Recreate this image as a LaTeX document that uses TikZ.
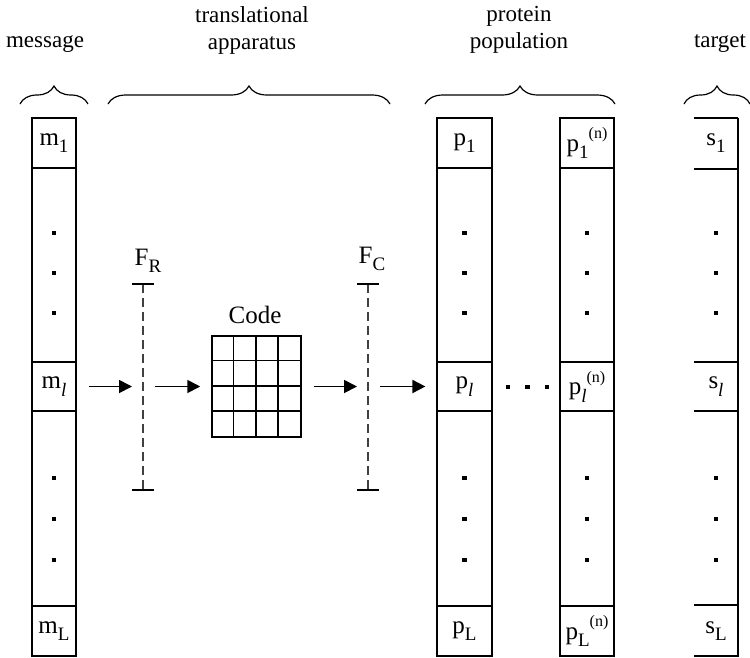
\documentclass[tikz,border=0pt]{standalone}
\usepackage{fontspec}
\setmainfont{Liberation Serif}
\usetikzlibrary{arrows.meta,decorations.pathreplacing}
% lowered / raised indices for the cell labels
\newcommand\dsub[1]{\raisebox{-0.3em}{\fontsize{19}{19}\selectfont #1}}
\newcommand\dsup[1]{\raisebox{0.5em}{\fontsize{16}{16}\selectfont #1}}
\begin{document}
\begin{tikzpicture}[x=1pt,y=-1pt,
  every node/.style={inner sep=0pt},
  head/.style={font=\fontsize{23}{27}\selectfont, align=center},
  lbl/.style={font=\fontsize{25}{25}\selectfont},
  cellbox/.style={draw, line width=1.2pt, minimum width=#1, font=\fontsize{25}{25}\selectfont},
  flow/.style={line width=1.8pt, -{Triangle[length=13pt,width=13pt]}, shorten <=12pt, shorten >=11pt},
  barline/.style={line width=1.5pt, draw=black!75, dash pattern=on 9pt off 5pt},
  barcap/.style={line width=1.4pt},
  brc/.style={line width=1.2pt, decorate, decoration={brace, amplitude=18pt}},
  gridline/.style={line width=1.5pt},
  dotmark/.style={fill=black},
]
\useasboundingbox (0,0) rectangle (750,657);

% ---- headings and braces ----
\node[head] (hmsg) at (45,44) {message};
\node[head] (htr) at (252,30) {translational\\apparatus};
\node[head] (hpp) at (519,30) {protein\\population};
\node[head] (htg) at (720,44) {target};
\draw[brc] (20,104) -- (88,104);
\draw[brc] (108,104) -- (390,104);
\draw[brc] (425,104) -- (615,104);
\draw[brc] (684,104) -- (750,104);

% ---- message column ----
\node[cellbox=44pt, minimum height=50pt] (m1) at (54,143) {m\dsub{1}};
\node[cellbox=44pt, minimum height=194pt] (mu) at (54,265) {};
\node[cellbox=44pt, minimum height=49pt] (ml) at (54,386.5) {m\dsub{\itshape l}};
\node[cellbox=44pt, minimum height=195pt] (md) at (54,508.5) {};
\node[cellbox=44pt, minimum height=50pt] (mL) at (54,631) {m\dsub{L}};

% ---- protein column ----
\node[cellbox=55pt, minimum height=50pt] (p1) at (464.5,143) {p\dsub{1}};
\node[cellbox=55pt, minimum height=194pt] (pu) at (464.5,265) {};
\node[cellbox=55pt, minimum height=49pt] (pl) at (464.5,386.5) {p\dsub{\itshape l}};
\node[cellbox=55pt, minimum height=195pt] (pd) at (464.5,508.5) {};
\node[cellbox=55pt, minimum height=50pt] (pL) at (464.5,631) {p\dsub{L}};

% ---- n-th protein column ----
\node[cellbox=54pt, minimum height=50pt] (q1) at (587,143) {p\dsub{1}\dsup{(n)}};
\node[cellbox=54pt, minimum height=194pt] (qu) at (587,265) {};
\node[cellbox=54pt, minimum height=49pt] (ql) at (587,386.5) {p\dsub{\itshape l}\dsup{(n)}};
\node[cellbox=54pt, minimum height=195pt] (qd) at (587,508.5) {};
\node[cellbox=54pt, minimum height=50pt] (qL) at (587,631) {p\dsub{L}\dsup{(n)}};

% ---- target column (open on the left) ----
\node[lbl] (s1) at (716,143) {s\dsub{1}};
\node[lbl] (sl) at (716,386.5) {s\dsub{\itshape l}};
\node[lbl] (sL) at (716,631) {s\dsub{L}};
\foreach \yy in {118,169,362,411,605,656}
  \draw[line width=1.2pt] (694,\yy) -- (738,\yy);
\draw[line width=1.2pt] (738,118) -- (738,657);

% ---- dots in the tall cells ----
\foreach \xx in {54,464.5,587,716}
  \foreach \yy in {233,273,313,478,519,560}
    \fill[dotmark] (\xx-2.2,\yy-2.2) rectangle ++(4.4,4.4);
\foreach \xx in {508,527.5,547}
  \fill[dotmark] (\xx-2.2,384.8) rectangle ++(4.4,4.4);

% ---- filters ----
\coordinate (frtop) at (143,284);
\coordinate (frbot) at (143,490);
\coordinate (fctop) at (368,284);
\coordinate (fcbot) at (368,490);
\coordinate (fr) at (143,386.5);
\coordinate (fc) at (368,386.5);
\draw[barline] (frtop) -- (frbot);
\draw[barline] (fctop) -- (fcbot);
\foreach \c in {frtop,frbot,fctop,fcbot}
  \draw[barcap] (\c) ++(-11,0) -- ++(22,0);
\node[lbl] (flr) at (148,261) {F\dsub{R}};
\node[lbl] (flc) at (372,259) {F\dsub{C}};

% ---- code table ----
\node[draw, gridline, minimum width=89pt, minimum height=101pt] (code) at (256.5,386.5) {};
\foreach \i in {1,2,3} {
  \draw[gridline] (code.north west) ++(\i*22.25,0) -- ++(0,101);
  \draw[gridline] (code.north west) ++(0,\i*25.25) -- ++(89,0);
}
\node[lbl] (codelbl) at (255,315) {Code};

% ---- flow arrows ----
\draw[flow] (ml.east) -- (fr);
\draw[flow] (fr) -- (code.west);
\draw[flow] (code.east) -- (fc);
\draw[flow] (fc) -- (pl.west);
\end{tikzpicture}
\end{document}
